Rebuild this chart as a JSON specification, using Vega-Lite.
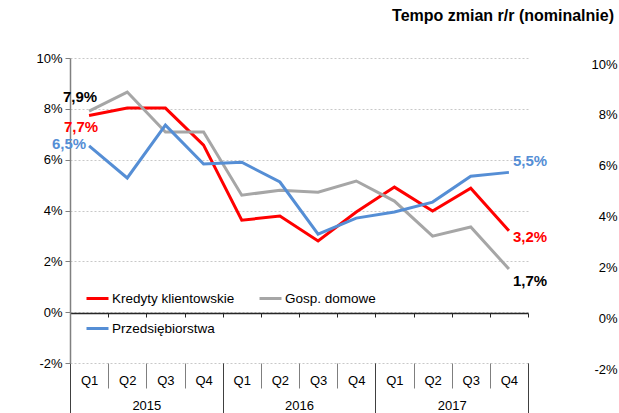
{
  "$schema": "https://vega.github.io/schema/vega-lite/v6.json",
  "width": 458,
  "height": 305,
  "autosize": {"type": "none"},
  "padding": {"left": 70, "top": 58, "right": 91, "bottom": 50},
  "background": "white",
  "config": {
    "view": {"stroke": null},
    "font": "Liberation Sans",
    "axis": {"labelFont": "Liberation Sans", "labelFontSize": 13, "labelColor": "#000000", "title": null}
  },
  "title": {
    "text": "Tempo zmian r/r (nominalnie)",
    "anchor": "end",
    "dx": -3,
    "offset": 28,
    "fontSize": 16,
    "font": "Liberation Sans",
    "fontWeight": "bold",
    "color": "#000000"
  },
  "datasets": {
    "dane": [
      {"okres": "2015 Q1", "rok": "2015", "seria": "Kredyty klientowskie", "wartosc": 7.74},
      {"okres": "2015 Q2", "rok": "2015", "seria": "Kredyty klientowskie", "wartosc": 8.03},
      {"okres": "2015 Q3", "rok": "2015", "seria": "Kredyty klientowskie", "wartosc": 8.03},
      {"okres": "2015 Q4", "rok": "2015", "seria": "Kredyty klientowskie", "wartosc": 6.57},
      {"okres": "2016 Q1", "rok": "2016", "seria": "Kredyty klientowskie", "wartosc": 3.62},
      {"okres": "2016 Q2", "rok": "2016", "seria": "Kredyty klientowskie", "wartosc": 3.78},
      {"okres": "2016 Q3", "rok": "2016", "seria": "Kredyty klientowskie", "wartosc": 2.8},
      {"okres": "2016 Q4", "rok": "2016", "seria": "Kredyty klientowskie", "wartosc": 3.94},
      {"okres": "2017 Q1", "rok": "2017", "seria": "Kredyty klientowskie", "wartosc": 4.92},
      {"okres": "2017 Q2", "rok": "2017", "seria": "Kredyty klientowskie", "wartosc": 3.98},
      {"okres": "2017 Q3", "rok": "2017", "seria": "Kredyty klientowskie", "wartosc": 4.88},
      {"okres": "2017 Q4", "rok": "2017", "seria": "Kredyty klientowskie", "wartosc": 3.2},
      {"okres": "2015 Q1", "rok": "2015", "seria": "Gosp. domowe", "wartosc": 7.91},
      {"okres": "2015 Q2", "rok": "2015", "seria": "Gosp. domowe", "wartosc": 8.66},
      {"okres": "2015 Q3", "rok": "2015", "seria": "Gosp. domowe", "wartosc": 7.09},
      {"okres": "2015 Q4", "rok": "2015", "seria": "Gosp. domowe", "wartosc": 7.09},
      {"okres": "2016 Q1", "rok": "2016", "seria": "Gosp. domowe", "wartosc": 4.6},
      {"okres": "2016 Q2", "rok": "2016", "seria": "Gosp. domowe", "wartosc": 4.8},
      {"okres": "2016 Q3", "rok": "2016", "seria": "Gosp. domowe", "wartosc": 4.72},
      {"okres": "2016 Q4", "rok": "2016", "seria": "Gosp. domowe", "wartosc": 5.16},
      {"okres": "2017 Q1", "rok": "2017", "seria": "Gosp. domowe", "wartosc": 4.37},
      {"okres": "2017 Q2", "rok": "2017", "seria": "Gosp. domowe", "wartosc": 2.99},
      {"okres": "2017 Q3", "rok": "2017", "seria": "Gosp. domowe", "wartosc": 3.35},
      {"okres": "2017 Q4", "rok": "2017", "seria": "Gosp. domowe", "wartosc": 1.7},
      {"okres": "2015 Q1", "rok": "2015", "seria": "Przedsiębiorstwa", "wartosc": 6.54},
      {"okres": "2015 Q2", "rok": "2015", "seria": "Przedsiębiorstwa", "wartosc": 5.28},
      {"okres": "2015 Q3", "rok": "2015", "seria": "Przedsiębiorstwa", "wartosc": 7.36},
      {"okres": "2015 Q4", "rok": "2015", "seria": "Przedsiębiorstwa", "wartosc": 5.83},
      {"okres": "2016 Q1", "rok": "2016", "seria": "Przedsiębiorstwa", "wartosc": 5.9},
      {"okres": "2016 Q2", "rok": "2016", "seria": "Przedsiębiorstwa", "wartosc": 5.12},
      {"okres": "2016 Q3", "rok": "2016", "seria": "Przedsiębiorstwa", "wartosc": 3.07},
      {"okres": "2016 Q4", "rok": "2016", "seria": "Przedsiębiorstwa", "wartosc": 3.7},
      {"okres": "2017 Q1", "rok": "2017", "seria": "Przedsiębiorstwa", "wartosc": 3.94},
      {"okres": "2017 Q2", "rok": "2017", "seria": "Przedsiębiorstwa", "wartosc": 4.33},
      {"okres": "2017 Q3", "rok": "2017", "seria": "Przedsiębiorstwa", "wartosc": 5.35},
      {"okres": "2017 Q4", "rok": "2017", "seria": "Przedsiębiorstwa", "wartosc": 5.5}
    ],
    "etykiety": [
      {"okres": "2015 Q1", "seria": "Gosp. domowe", "wartosc": 7.91, "etykieta": "7,9%"},
      {"okres": "2015 Q1", "seria": "Kredyty klientowskie", "wartosc": 7.74, "etykieta": "7,7%"},
      {"okres": "2015 Q1", "seria": "Przedsiębiorstwa", "wartosc": 6.54, "etykieta": "6,5%"},
      {"okres": "2017 Q4", "seria": "Przedsiębiorstwa", "wartosc": 5.5, "etykieta": "5,5%"},
      {"okres": "2017 Q4", "seria": "Kredyty klientowskie", "wartosc": 3.2, "etykieta": "3,2%"},
      {"okres": "2017 Q4", "seria": "Gosp. domowe", "wartosc": 1.7, "etykieta": "1,7%"}
    ]
  },
  "layer": [
    {
      "layer": [
        {
          "data": {"name": "dane"},
          "mark": {"type": "line", "strokeWidth": 3, "strokeJoin": "miter"},
          "encoding": {
            "x": {
              "field": "okres", "type": "ordinal", "sort": null,
              "scale": {"type": "band", "paddingInner": 0, "paddingOuter": 0},
              "axis": {
                "orient": "bottom", "domain": false, "grid": false,
                "ticks": true, "tickBand": "extent", "tickSize": 25, "tickColor": "#7f7f7f",
                "labelExpr": "split(datum.value, ' ')[1]", "labelAngle": 0,
                "labelPadding": -8, "labelBaseline": "middle", "labelFontSize": 13
              }
            },
            "y": {
              "field": "wartosc", "type": "quantitative",
              "scale": {"domain": [-2, 10], "nice": false, "zero": false},
              "axis": {
                "orient": "left", "values": [-2, 0, 2, 4, 6, 8, 10],
                "labelExpr": "datum.value + '%'",
                "domain": true, "domainColor": "#808080", "domainWidth": 1.5,
                "ticks": true, "tickSize": 5, "tickColor": "#808080",
                "labelPadding": 3,
                "grid": true, "gridColor": "#c8c8c8", "gridDash": [2, 2], "gridWidth": 1
              }
            },
            "color": {
              "field": "seria", "type": "nominal",
              "scale": {
                "domain": ["Kredyty klientowskie", "Gosp. domowe", "Przedsiębiorstwa"],
                "range": ["#ff0000", "#a6a6a6", "#558ed5"]
              },
              "legend": {
                "title": null, "orient": "none", "legendX": 15, "legendY": 228,
                "direction": "horizontal", "columns": 2, "columnPadding": 18, "rowPadding": 11,
                "symbolType": "stroke", "symbolSize": 484, "symbolStrokeWidth": 3,
                "labelFont": "Liberation Sans", "labelFontSize": 13.5, "labelColor": "#000000",
                "labelOffset": 2, "padding": 0
              }
            }
          }
        },
        {
          "data": {"name": "etykiety"},
          "transform": [{"filter": "datum.etykieta == '7,9%'"}],
          "mark": {"type": "text", "align": "right", "baseline": "middle", "dx": 8, "dy": -14, "fontSize": 15, "fontWeight": "bold", "color": "#000000", "font": "Liberation Sans"},
          "encoding": {
            "x": {"field": "okres", "type": "ordinal", "sort": null},
            "y": {"field": "wartosc", "type": "quantitative"},
            "text": {"field": "etykieta"}
          }
        },
        {
          "data": {"name": "etykiety"},
          "transform": [{"filter": "datum.etykieta == '7,7%'"}],
          "mark": {"type": "text", "align": "right", "baseline": "middle", "dx": 9, "dy": 12, "fontSize": 15, "fontWeight": "bold", "color": "#ff0000", "font": "Liberation Sans"},
          "encoding": {
            "x": {"field": "okres", "type": "ordinal", "sort": null},
            "y": {"field": "wartosc", "type": "quantitative"},
            "text": {"field": "etykieta"}
          }
        },
        {
          "data": {"name": "etykiety"},
          "transform": [{"filter": "datum.etykieta == '6,5%'"}],
          "mark": {"type": "text", "align": "right", "baseline": "middle", "dx": -3, "dy": -2, "fontSize": 15, "fontWeight": "bold", "color": "#558ed5", "font": "Liberation Sans"},
          "encoding": {
            "x": {"field": "okres", "type": "ordinal", "sort": null},
            "y": {"field": "wartosc", "type": "quantitative"},
            "text": {"field": "etykieta"}
          }
        },
        {
          "data": {"name": "etykiety"},
          "transform": [{"filter": "datum.etykieta == '5,5%'"}],
          "mark": {"type": "text", "align": "left", "baseline": "middle", "dx": 4, "dy": -11, "fontSize": 15, "fontWeight": "bold", "color": "#558ed5", "font": "Liberation Sans"},
          "encoding": {
            "x": {"field": "okres", "type": "ordinal", "sort": null},
            "y": {"field": "wartosc", "type": "quantitative"},
            "text": {"field": "etykieta"}
          }
        },
        {
          "data": {"name": "etykiety"},
          "transform": [{"filter": "datum.etykieta == '3,2%'"}],
          "mark": {"type": "text", "align": "left", "baseline": "middle", "dx": 4, "dy": 6, "fontSize": 15, "fontWeight": "bold", "color": "#ff0000", "font": "Liberation Sans"},
          "encoding": {
            "x": {"field": "okres", "type": "ordinal", "sort": null},
            "y": {"field": "wartosc", "type": "quantitative"},
            "text": {"field": "etykieta"}
          }
        },
        {
          "data": {"name": "etykiety"},
          "transform": [{"filter": "datum.etykieta == '1,7%'"}],
          "mark": {"type": "text", "align": "left", "baseline": "middle", "dx": 4, "dy": 12, "fontSize": 15, "fontWeight": "bold", "color": "#000000", "font": "Liberation Sans"},
          "encoding": {
            "x": {"field": "okres", "type": "ordinal", "sort": null},
            "y": {"field": "wartosc", "type": "quantitative"},
            "text": {"field": "etykieta"}
          }
        }
      ]
    },
    {
      "data": {"name": "dane"},
      "mark": {"type": "point", "opacity": 0},
      "encoding": {
        "x": {
          "field": "rok", "type": "ordinal", "sort": null,
          "scale": {"type": "band", "paddingInner": 0, "paddingOuter": 0},
          "axis": {
            "orient": "bottom", "domain": false, "grid": false,
            "ticks": true, "tickBand": "extent", "tickSize": 50, "tickColor": "#404040",
            "labelAngle": 0, "labelPadding": -8, "labelBaseline": "middle", "labelFontSize": 13
          }
        }
      }
    },
    {
      "data": {"name": "dane"},
      "mark": {"type": "point", "opacity": 0},
      "encoding": {
        "x": {
          "field": "okres", "type": "ordinal", "sort": null,
          "scale": {"type": "band", "paddingInner": 0, "paddingOuter": 0},
          "axis": {
            "orient": "bottom", "offset": -50, "labels": false, "grid": false,
            "domain": true, "domainColor": "#262626", "domainWidth": 1.3,
            "ticks": true, "tickBand": "extent", "tickSize": 4, "tickColor": "#262626"
          }
        },
        "y": {
          "field": "wartosc", "type": "quantitative",
          "axis": {
            "orient": "right", "values": [-2, 0, 2, 4, 6, 8, 10],
            "labelExpr": "datum.value + '%'",
            "domain": false, "ticks": false, "grid": false,
            "labelAlign": "right", "labelPadding": 89, "labelOffset": 6
          }
        }
      }
    }
  ],
  "resolve": {"scale": {"x": "independent"}, "axis": {"y": "independent", "x": "independent"}}
}
